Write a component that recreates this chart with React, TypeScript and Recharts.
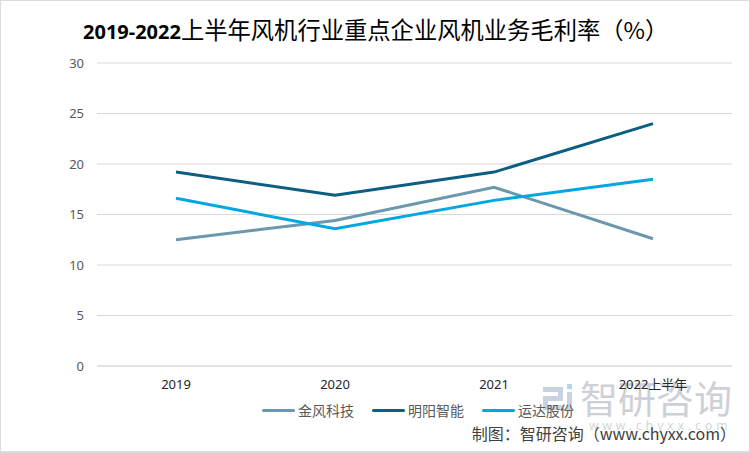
import React from "react";
import { CartesianGrid, Line, LineChart, XAxis, YAxis } from "recharts";

const periods = ["2019", "2020", "2021", "2022上半年"];
const goldwind = [12.5, 14.4, 17.7, 12.6];
const mingyang = [19.2, 16.9, 19.2, 24.0];
const windey = [16.6, 13.6, 16.4, 18.5];
const yTicks = [0, 5, 10, 15, 20, 25, 30];

const series = [
  { key: "goldwind", name: "金风科技", color: "#6b98ae", values: goldwind },
  { key: "mingyang", name: "明阳智能", color: "#0c5f81", values: mingyang },
  { key: "windey", name: "运达股份", color: "#00a7e1", values: windey },
];

const data = periods.map((p, i) => {
  const row: Record<string, string | number> = { period: p };
  series.forEach((s) => {
    row[s.key] = s.values[i];
  });
  return row;
});

const FONT = "'Noto Sans', 'Noto Sans CJK SC', sans-serif";
const CJK = "'Noto Sans CJK SC', 'Noto Sans', sans-serif";

function ChartLegend() {
  return (
    <div
      style={{
        position: "absolute",
        left: 262,
        top: 400,
        display: "flex",
        alignItems: "center",
        gap: 18,
        fontFamily: CJK,
        fontSize: 14,
        color: "#595959",
        whiteSpace: "nowrap",
      }}
    >
      {series.map((s) => (
        <div key={s.key} style={{ display: "flex", alignItems: "center", gap: 3 }}>
          <span
            style={{
              display: "inline-block",
              width: 33,
              height: 3,
              borderRadius: 2,
              background: s.color,
            }}
          />
          <span>{s.name}</span>
        </div>
      ))}
    </div>
  );
}

// light logo + name stamped behind the chart, like the source image
function Watermark() {
  const block = (l: number, t: number, w: number, h: number, c = "#c9d2e0") => (
    <div style={{ position: "absolute", left: l, top: t, width: w, height: h, background: c }} />
  );
  return (
    <div style={{ position: "absolute", left: 543, top: 382, pointerEvents: "none" }}>
      {block(0, 5, 20, 5)}
      {block(15, 5, 5, 14)}
      {block(0, 14, 20, 5)}
      {block(0, 14, 5, 14)}
      {block(0, 23, 20, 5)}
      {block(24, 2, 5, 5, "#a9d8ef")}
      {block(24, 10, 5, 18)}
      <div
        style={{
          position: "absolute",
          left: 37,
          top: -8,
          fontFamily: CJK,
          fontSize: 38,
          color: "#cdd1d7",
          whiteSpace: "nowrap",
          lineHeight: 1.2,
        }}
      >
        智研咨询
      </div>
      <div
        style={{
          position: "absolute",
          left: 46,
          top: 35,
          fontFamily: FONT,
          fontSize: 12,
          letterSpacing: 4,
          color: "#d3d6db",
          whiteSpace: "nowrap",
        }}
      >
        www.chyxx.com
      </div>
    </div>
  );
}

export default function App() {
  return (
    <div
      style={{
        position: "absolute",
        left: 0,
        top: 0,
        width: 750,
        height: 453,
        background: "#fff",
        overflow: "hidden",
      }}
    >
      <div
        style={{
          position: "absolute",
          left: 0,
          top: 0,
          width: 748,
          height: 450,
          border: "1px solid #dcdcdc",
          borderRightWidth: 2,
          borderBottomWidth: 2,
        }}
      />
      <Watermark />
      <div
        style={{
          position: "absolute",
          left: 83,
          top: 14,
          whiteSpace: "nowrap",
          color: "#000",
          lineHeight: "30px",
        }}
      >
        <span style={{ fontFamily: FONT, fontWeight: 700, fontSize: 20 }}>2019-2022</span>
        <span style={{ fontFamily: CJK, fontSize: 23.3 }}>上半年风机行业重点企业风机业务毛利率（%）</span>
      </div>
      <div style={{ position: "absolute", left: 0, top: 0 }}>
        <LineChart
          width={750}
          height={453}
          data={data}
          margin={{ top: 63, right: 18, left: 0, bottom: 57 }}
        >
          <CartesianGrid vertical={false} stroke="#d9d9d9" strokeWidth={1} />
          <XAxis
            dataKey="period"
            axisLine={{ stroke: "#d9d9d9" }}
            tickLine={false}
            tickMargin={8}
            height={30}
            padding={{ left: 79, right: 79 }}
            tick={{ fill: "#262626", fontSize: 13, fontFamily: FONT }}
            interval={0}
          />
          <YAxis
            width={97}
            domain={[0, 30]}
            ticks={yTicks}
            axisLine={false}
            tickLine={false}
            tickMargin={7}
            tick={{ fill: "#595959", fontSize: 13, fontFamily: FONT }}
          />
          {series.map((s) => (
            <Line
              key={s.key}
              dataKey={s.key}
              name={s.name}
              type="linear"
              stroke={s.color}
              strokeWidth={3}
              dot={false}
              isAnimationActive={false}
            />
          ))}
        </LineChart>
      </div>
      <ChartLegend />
      <div
        style={{
          position: "absolute",
          right: 14,
          top: 421,
          fontFamily: CJK,
          fontSize: 16,
          color: "#404040",
          whiteSpace: "nowrap",
        }}
      >
        制图：智研咨询（www.chyxx.com）
      </div>
    </div>
  );
}
